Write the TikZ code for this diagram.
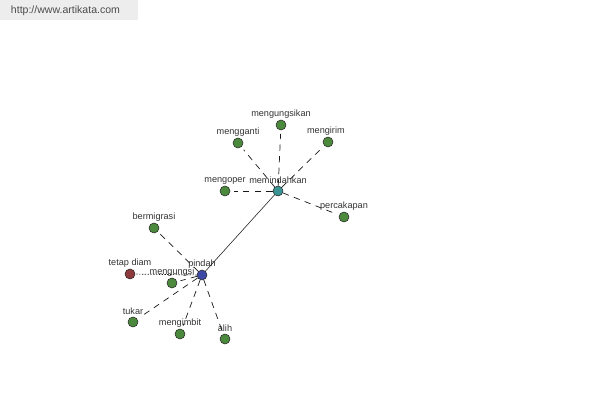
\documentclass[tikz,border=0pt]{standalone}
\usepackage{fontspec}
\setmainfont{Liberation Sans}
\usetikzlibrary{positioning,calc}
\definecolor{akWordFill}{HTML}{4B8A3C}
\definecolor{akMainFill}{HTML}{3A9494}
\definecolor{akRootFill}{HTML}{3C48A6}
\definecolor{akAntoFill}{HTML}{8E3A3C}
\definecolor{akBorder}{HTML}{2A2A2A}
\definecolor{akLabel}{HTML}{333333}
\definecolor{akEdge}{HTML}{1A1A1A}
\tikzset{
  word dot/.style={
    circle, draw=akBorder, line width=0.4pt,
    fill=#1, minimum size=0.25cm, inner sep=0pt,
  },
  word label/.style={
    font=\fontsize{6.5}{7}\selectfont, text=akLabel,
    inner sep=1pt,
  },
  syn link/.style={
    draw=akEdge, line width=0.5pt,
    dash pattern=on 4.5pt off 3.8pt, shorten >=2.5pt,
  },
  anto link/.style={
    draw=akEdge, line width=0.5pt,
    dash pattern=on 1pt off 1pt,
  },
  root link/.style={draw=akEdge, line width=0.4pt},
}

\begin{document}
\begin{tikzpicture}[x=0.025cm, y=-0.025cm]

% --- canvas and watermark ---
\path[use as bounding box, fill=white] (0,0) rectangle (600,400);
\fill[black!7] (0,0) rectangle (138,20);
\node[font=\fontsize{7.5}{8}\selectfont, text=black!70, anchor=west]
  (site) at (6,11) {http://www.artikata.com};

% --- hubs ---
\node[word dot=akMainFill,
      label={[word label, label distance=0pt]above:memindahkan}]
  (memindahkan) at (278,191) {};
\node[word dot=akRootFill,
      label={[word label, label distance=0pt]above:pindah}]
  (pindah) at (202,275) {};

% --- words round memindahkan ---
\node[word dot=akWordFill, label={[word label]above:mengungsikan}]
  (mengungsikan) at (281,125) {};
\node[word dot=akWordFill, label={[word label]above:mengganti}]
  (mengganti) at (238,143) {};
\node[word dot=akWordFill, label={[word label, xshift=-1.5pt]above:mengirim}]
  (mengirim) at (328,142) {};
\node[word dot=akWordFill, label={[word label]above:mengoper}]
  (mengoper) at (225,191) {};
\node[word dot=akWordFill, label={[word label]above:percakapan}]
  (percakapan) at (344,217) {};

% --- words round pindah ---
\node[word dot=akWordFill, label={[word label]above:bermigrasi}]
  (bermigrasi) at (154,228) {};
\node[word dot=akAntoFill, label={[word label]above:tetap diam}]
  (tetapdiam) at (130,274) {};
\node[word dot=akWordFill, label={[word label]above:mengungsi}]
  (mengungsi) at (172,283) {};
\node[word dot=akWordFill, label={[word label]above:tukar}]
  (tukar) at (133,322) {};
\node[word dot=akWordFill, label={[word label]above:mengimbit}]
  (mengimbit) at (180,334) {};
\node[word dot=akWordFill, label={[word label]above:alih}]
  (alih) at (225,339) {};

% --- links ---
\draw[root link] (pindah) -- (memindahkan);
\foreach \w in {mengungsikan,mengganti,mengirim,mengoper,percakapan}
  \draw[syn link] (memindahkan) -- (\w);
\foreach \w in {bermigrasi,mengungsi,tukar,mengimbit,alih}
  \draw[syn link] (pindah) -- (\w);
\draw[anto link] (pindah) -- (tetapdiam);

\end{tikzpicture}
\end{document}
